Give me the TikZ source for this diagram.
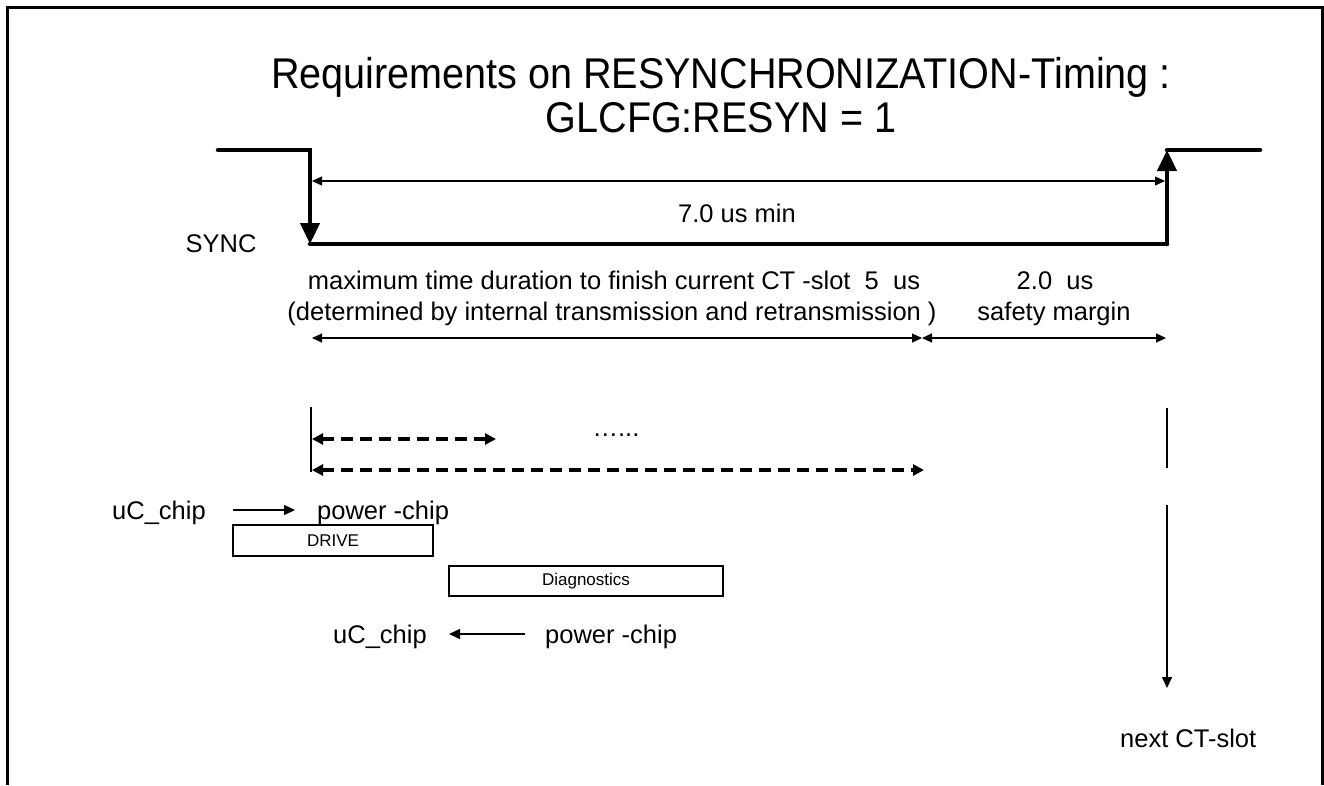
\documentclass[tikz,border=0pt]{standalone}
\usepackage{fontspec}
\setmainfont{Liberation Sans}
\usetikzlibrary{arrows.meta}
\newcommand{\ttlnarrow}[1]{\scalebox{0.92}[1]{#1}}
\begin{document}
\begin{tikzpicture}[x=1pt,y=-1pt,
  lbl/.style={inner sep=0pt, font=\fontsize{25.5}{30}\selectfont},
  ttl/.style={inner sep=0pt, font=\fontsize{43}{48}\selectfont},
  framebox/.style={draw, line width=1.5pt, inner sep=0pt, font=\fontsize{17}{20}\selectfont},
  wave/.style={line width=4.5pt, line cap=round, line join=miter},
  wavehead/.style={-{Triangle[length=21pt,width=19pt]}},
  dimline/.style={line width=1.2pt},
  dimboth/.style={dimline, {Triangle[length=10pt,width=9pt]}-{Triangle[length=10pt,width=9pt]}},
  dasharrow/.style={line width=3.5pt, dash pattern=on 12pt off 7pt, {Triangle[length=11pt,width=11pt]}-{Triangle[length=11pt,width=11pt]}},
  thinline/.style={line width=1.5pt},
  flowarrow/.style={line width=1.5pt, -{Triangle[length=11pt,width=10pt]}},
  border/.style={line width=3pt, line join=miter}
]
\useasboundingbox (0,0) rectangle (1324,785);
% frame
\coordinate (f1) at (7,785);
\coordinate (f2) at (7,7);
\coordinate (f3) at (1322,7);
\coordinate (f4) at (1322,785);
\draw[border] (f1) -- (f2) -- (f3) -- (f4);
% title
\node[ttl, anchor=base] (t1) at (721,88) {\ttlnarrow{Requirements on RESYNCHRONIZATION\kern1pt-Timing :}};
\node[ttl, anchor=base] (t2) at (721,132) {\ttlnarrow{GLCFG:RESYN = 1}};
% SYNC waveform
\coordinate (w1) at (218,150);
\coordinate (w2) at (310,150);
\coordinate (w3) at (310,244);
\coordinate (w4) at (1167,244);
\coordinate (w5) at (1167,150);
\coordinate (w6) at (1260,150);
\draw[wave, wavehead] (w1) -- (w2) -- (w3);
\draw[wave] (w3) -- (w4);
\draw[wave, wavehead] (w4) -- (w5);
\draw[wave] (w5) -- (w6);
\node[lbl, anchor=base] (sync) at (221,252) {SYNC};
% 7.0 us dimension
\coordinate (d1) at (312,181);
\coordinate (d2) at (1165,181);
\draw[dimboth] (d1) -- (d2);
\node[lbl, anchor=base] (tmin) at (737,222) {7.0 us min};
% texts
\node[lbl, anchor=base] (max1) at (614,289) {maximum time duration to finish current CT -slot\ \ 5\ \ us};
\node[lbl, anchor=base] (max2) at (612,320) {(determined by internal transmission and retransmission )};
\node[lbl, anchor=base] (two) at (1055,289) {2.0\ \ us};
\node[lbl, anchor=base] (safe) at (1054,320) {safety margin};
% split dimension
\coordinate (e1) at (312,338);
\coordinate (e2) at (922,338);
\coordinate (e3) at (1166,338);
\draw[dimboth] (e1) -- (e2);
\draw[dimboth] (e2) -- (e3);
% vertical markers
\coordinate (v1) at (311,407);
\coordinate (v2) at (311,472);
\coordinate (v3) at (1167,408);
\coordinate (v4) at (1167,468);
\coordinate (v5) at (1167,505);
\coordinate (v6) at (1167,688);
\draw[thinline] (v1) -- (v2);
\draw[thinline] (v3) -- (v4);
\draw[flowarrow] (v5) -- (v6);
% dashed arrows
\coordinate (g1) at (312,439);
\coordinate (g2) at (496,439);
\coordinate (g3) at (312,470);
\coordinate (g4) at (924,470);
\draw[dasharrow] (g1) -- (g2);
\draw[dasharrow] (g3) -- (g4);
\node[lbl, anchor=base] (dots) at (616,436) {…...};
% row 1
\node[lbl, anchor=base west] (uc1) at (112,519) {uC\_chip};
\node[lbl, anchor=base west] (pc1) at (317,519) {power -chip};
\coordinate (r1s) at (233,510);
\coordinate (r1e) at (295,510);
\draw[flowarrow] (r1s) -- (r1e);
% boxes
\node[framebox, minimum width=200pt, minimum height=31pt] (drive) at (333,540.5) {DRIVE};
\node[framebox, minimum width=274pt, minimum height=30pt] (diag) at (586,581) {Diagnostics};
% row 2
\node[lbl, anchor=base west] (uc2) at (333,643) {uC\_chip};
\node[lbl, anchor=base west] (pc2) at (545,643) {power -chip};
\coordinate (r2s) at (525,634);
\coordinate (r2e) at (449,634);
\draw[flowarrow] (r2s) -- (r2e);
% next slot
\node[lbl, anchor=base west] (next) at (1120,747) {next CT-slot};
\end{tikzpicture}
\end{document}
